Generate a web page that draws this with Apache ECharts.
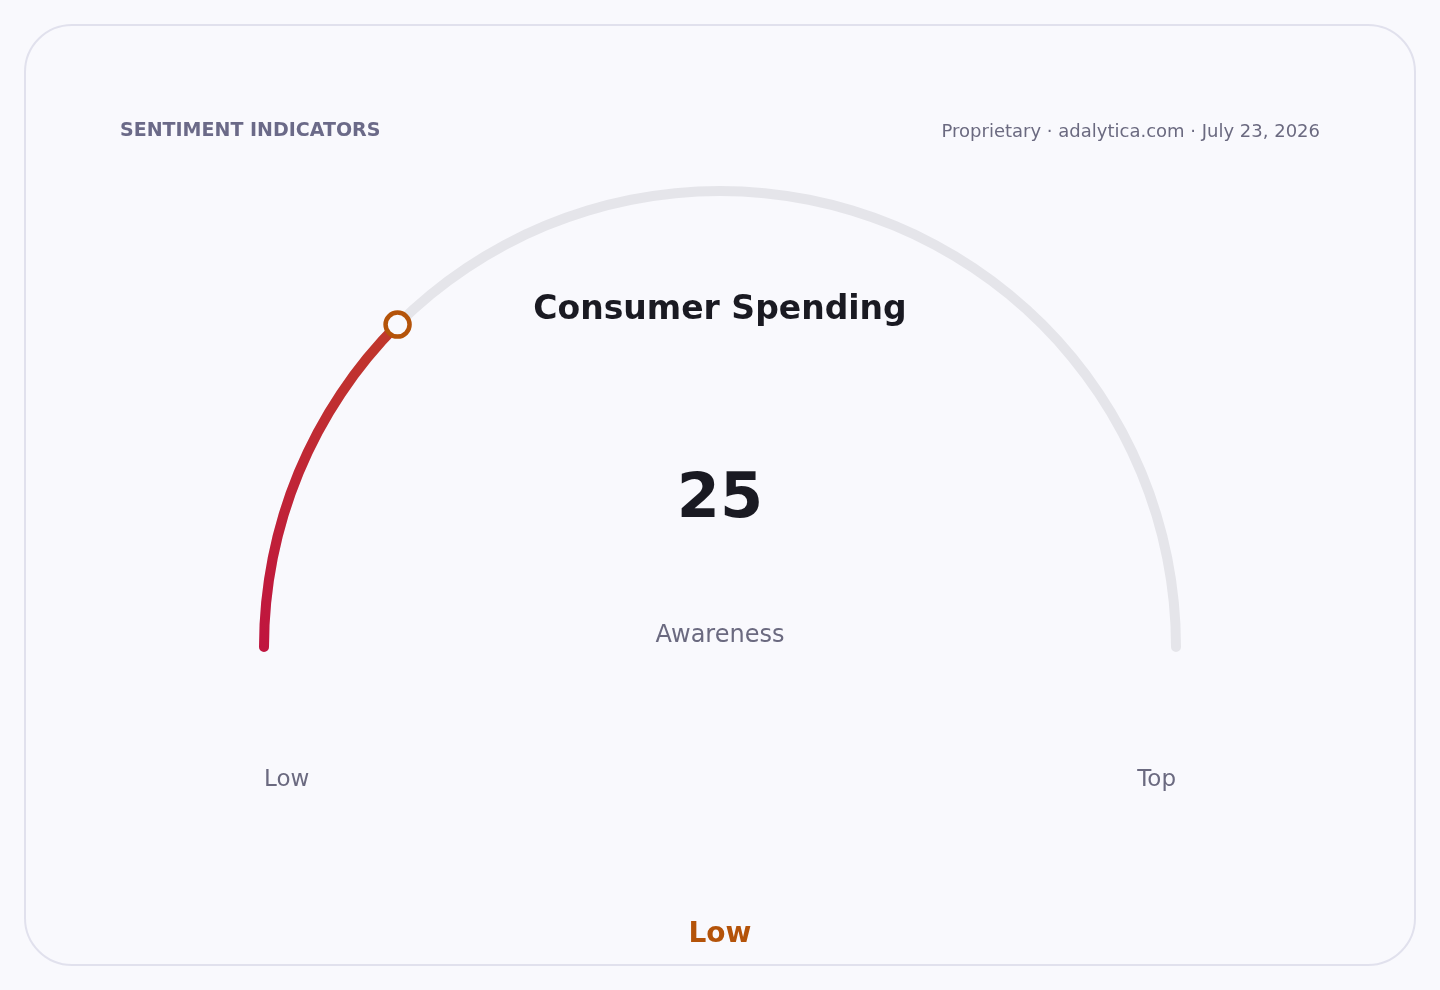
<!DOCTYPE html>
<html>
<head>
<meta charset="utf-8">
<title>Consumer Spending</title>
<script src="https://cdn.jsdelivr.net/npm/echarts@6/dist/echarts.min.js"></script>
<style>
  html, body { margin: 0; padding: 0; background: #f9f9fd; }
  #card {
    position: absolute; left: 24px; top: 24px;
    width: 1388px; height: 938px;
    border: 2px solid #e1e1ed; border-radius: 48px;
    background: #f9f9fd;
  }
  #chart { position: absolute; left: 0; top: 0; width: 1440px; height: 990px; }
</style>
</head>
<body>
<div id="card"></div>
<div id="chart"></div>
<script>
// gauge data
const gaugeName = 'Consumer Spending';
const gaugeValue = 25;
const gaugeMin = 0;
const gaugeMax = 100;
const subLabel = 'Awareness';
const endLabels = ['Low', 'Top'];
const bandLabel = 'Low';
const headerLeft = 'SENTIMENT INDICATORS';
const headerRight = 'Proprietary \u00b7 adalytica.com \u00b7 July 23, 2026';

const font = 'DejaVu Sans, Noto Sans, sans-serif';
const center = [720, 647];
const radius = 456;
const arcWidth = 10;

const chart = echarts.init(document.getElementById('chart'), null, { renderer: 'canvas' });

chart.setOption({
  backgroundColor: 'transparent',
  title: [
    { text: headerLeft, left: 120, top: 122, padding: 0,
      textStyle: { fontFamily: font, fontSize: 19, fontWeight: 'bold', color: '#6b6a88' } },
    { text: headerRight, right: 120, top: 123, padding: 0,
      textStyle: { fontFamily: font, fontSize: 18, fontWeight: 'normal', color: '#6b6a80' } },
    { text: subLabel, left: 'center', top: 619,
      textStyle: { fontFamily: font, fontSize: 24, fontWeight: 'normal', color: '#6b6a80' } },
    { text: endLabels[0], left: 264, top: 769, padding: 0,
      textStyle: { fontFamily: font, fontSize: 23, fontWeight: 'normal', color: '#6b6a80' } },
    { text: endLabels[1], right: 1440 - 1176, top: 769, padding: 0,
      textStyle: { fontFamily: font, fontSize: 23, fontWeight: 'normal', color: '#6b6a80' } },
    { text: bandLabel, left: 'center', top: 916,
      textStyle: { fontFamily: font, fontSize: 28, fontWeight: 'bold', color: '#b45309' } }
  ],
  polar: { center: center, radius: radius },
  angleAxis: {
    type: 'value', startAngle: 180, clockwise: true,
    min: gaugeMin, max: gaugeMin + (gaugeMax - gaugeMin) * 2,
    show: false
  },
  radiusAxis: { type: 'value', min: 0, max: 1, show: false },
  series: [
    {
      type: 'gauge',
      center: center,
      radius: radius + arcWidth / 2,
      startAngle: 180,
      endAngle: 0,
      min: gaugeMin,
      max: gaugeMax,
      axisLine: { roundCap: true, lineStyle: { width: arcWidth, color: [[1, '#e5e5ea']] } },
      progress: {
        show: true, width: arcWidth, roundCap: true,
        itemStyle: {
          color: new echarts.graphic.LinearGradient(0, 1, 1, 0, [
            { offset: 0, color: '#c0143f' },
            { offset: 1, color: '#c0392b' }
          ])
        }
      },
      pointer: { show: false },
      anchor: { show: false },
      axisTick: { show: false },
      splitLine: { show: false },
      axisLabel: { show: false },
      title: {
        offsetCenter: [0, -337],
        fontFamily: font, fontSize: 33, fontWeight: 'bold', color: '#1a1a22'
      },
      detail: {
        offsetCenter: [0, -146],
        fontFamily: font, fontSize: 62, fontWeight: 'bold', color: '#1a1a22',
        formatter: '{value}'
      },
      data: [{ value: gaugeValue, name: gaugeName }]
    },
    {
      type: 'scatter',
      coordinateSystem: 'polar',
      symbol: 'circle',
      symbolSize: 24,
      itemStyle: { color: '#f9f9fd', borderColor: '#b45309', borderWidth: 4.5, opacity: 1 },
      z: 10,
      silent: true,
      data: [[1, gaugeValue]]
    }
  ]
});
</script>
</body>
</html>
